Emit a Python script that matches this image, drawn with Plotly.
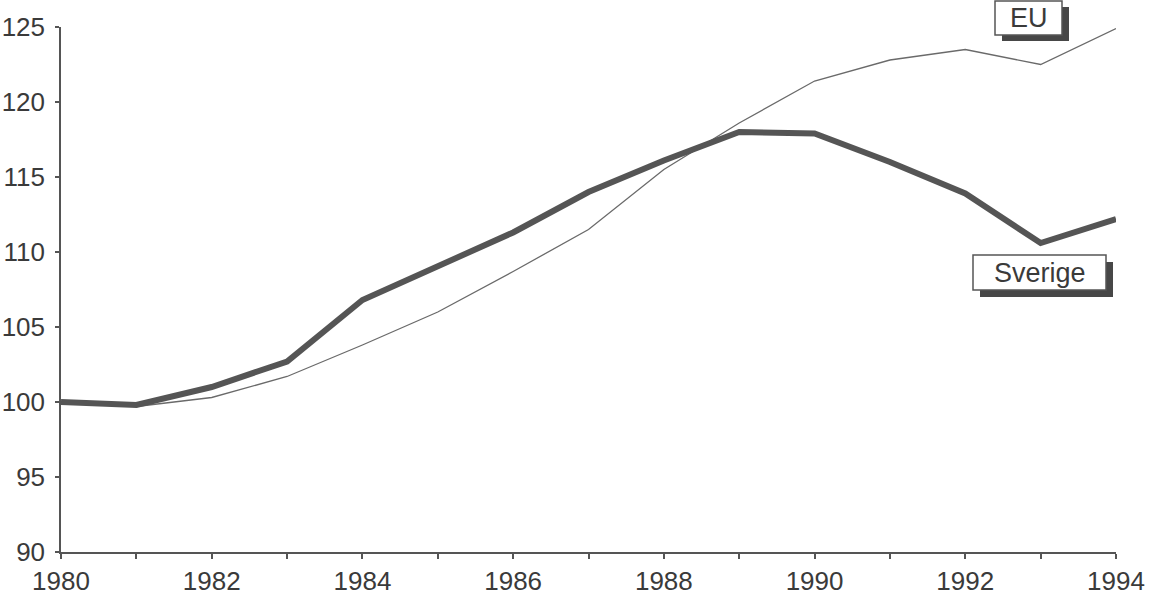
import plotly.graph_objects as go

years = list(range(1980, 1995))
sverige = [100.0, 99.8, 101.0, 102.7, 106.8, 109.1, 111.3, 114.0, 116.1, 118.0, 117.9, 116.0, 113.9, 110.6, 112.2]
eu = [100.0, 99.7, 100.3, 101.7, 103.8, 106.0, 108.7, 111.5, 115.5, 118.6, 121.4, 122.8, 123.5, 122.5, 124.9]
y_ticks = [90, 95, 100, 105, 110, 115, 120, 125]
x_labels = [str(y) if y % 2 == 0 else "" for y in years]

FONT = "Liberation Sans"
INK = "#3a3a3a"
L, T, W, H = 61, 27, 1055, 525

fig = go.Figure()
fig.add_trace(go.Scatter(x=years, y=eu, mode="lines", name="EU",
                         line=dict(color="#6a6a6a", width=1.3), cliponaxis=False))
fig.add_trace(go.Scatter(x=years, y=sverige, mode="lines", name="Sverige",
                         line=dict(color="#555555", width=6), cliponaxis=False))

def px(x):
    return (x - L) / W

def py(y):
    return (T + H - y) / H

def boxed_label(text, x0, y0, x1, y1, dx, dy):
    fig.add_shape(type="rect", xref="paper", yref="paper",
                  x0=px(x0 + dx), x1=px(x1 + dx), y0=py(y0 + dy), y1=py(y1 + dy),
                  fillcolor="#474747", line=dict(width=0), layer="above")
    fig.add_shape(type="rect", xref="paper", yref="paper",
                  x0=px(x0), x1=px(x1), y0=py(y0), y1=py(y1),
                  fillcolor="white", line=dict(color="#555555", width=1.5), layer="above")
    fig.add_annotation(x=px((x0 + x1) / 2), y=py((y0 + y1) / 2), xref="paper", yref="paper",
                       text=text, showarrow=False, xanchor="center", yanchor="middle",
                       font=dict(family=FONT, size=27, color=INK))

boxed_label("EU", 995, 1, 1062, 35, 7, 6)
boxed_label("Sverige", 973, 255, 1106, 290, 7, 7)

fig.update_layout(
    width=1150, height=595,
    margin=dict(l=L, r=1150 - L - W, t=T, b=595 - T - H, autoexpand=False),
    paper_bgcolor="white", plot_bgcolor="white",
    showlegend=False, hovermode=False,
    font=dict(family=FONT, size=26, color=INK),
)
fig.update_xaxes(range=[1980, 1994], tickvals=years, ticktext=x_labels, automargin=False,
                 showgrid=False, zeroline=False, showline=True, linecolor="#555555", linewidth=1.5,
                 ticks="outside", ticklen=5, tickwidth=1.5, tickcolor="#555555",
                 tickfont=dict(family=FONT, size=26, color=INK))
fig.update_yaxes(range=[90, 125], tickvals=y_ticks, automargin=False,
                 showgrid=False, zeroline=False, showline=True, linecolor="#555555", linewidth=1.5,
                 ticks="outside", ticklen=4, tickwidth=1.5, tickcolor="#555555",
                 ticklabelstandoff=5,
                 tickfont=dict(family=FONT, size=26, color=INK))

fig.write_html("out.html", config={"displayModeBar": False},
               post_script="document.body.style.margin='0';document.body.style.overflow='hidden';")
